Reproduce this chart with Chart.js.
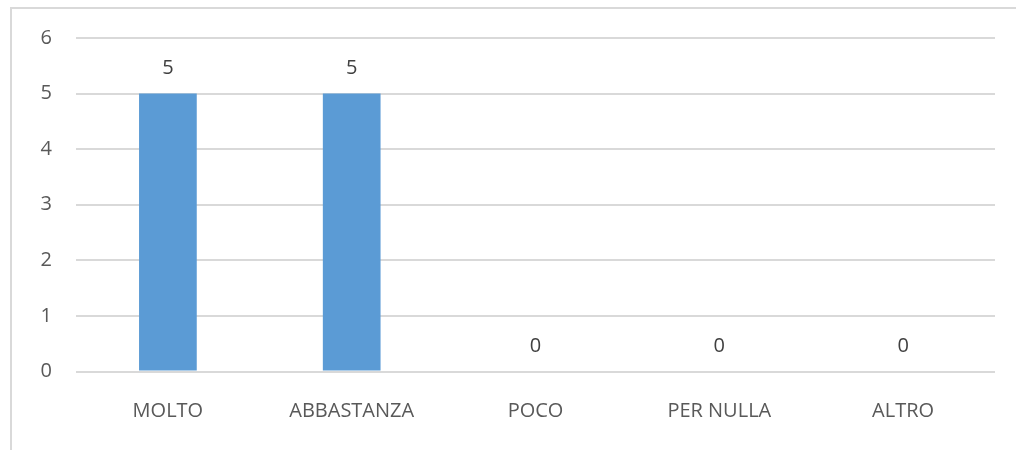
<!DOCTYPE html>
<html>
<head>
<meta charset="utf-8">
<script src="https://cdn.jsdelivr.net/npm/chart.js@4"></script>
<style>
  html, body { margin: 0; padding: 0; background: #ffffff; }
  #wrap { position: relative; width: 1016px; height: 450px; }
</style>
</head>
<body>
<div id="wrap"><canvas id="c" width="1016" height="450"></canvas></div>
<script>
const categories = ["MOLTO", "ABBASTANZA", "POCO", "PER NULLA", "ALTRO"];
const values = [5, 5, 0, 0, 0];
const yTicks = [0, 1, 2, 3, 4, 5, 6];

const FONT = "'Open Sans', 'Noto Sans', sans-serif";

const frame = {
  id: 'frame',
  beforeDraw(chart) {
    const ctx = chart.ctx;
    ctx.save();
    ctx.fillStyle = '#ffffff';
    ctx.fillRect(0, 0, chart.width, chart.height);
    ctx.strokeStyle = '#d9d9d9';
    ctx.lineWidth = 2;
    ctx.beginPath();
    ctx.moveTo(11, 460);
    ctx.lineTo(11, 8);
    ctx.lineTo(1030, 8);
    ctx.stroke();
    ctx.restore();
  }
};

const dataLabels = {
  id: 'dataLabels',
  afterDatasetsDraw(chart) {
    const ctx = chart.ctx;
    const meta = chart.getDatasetMeta(0);
    ctx.save();
    ctx.font = "20px " + FONT;
    ctx.fillStyle = '#404040';
    ctx.textAlign = 'center';
    ctx.textBaseline = 'middle';
    meta.data.forEach((bar, i) => {
      ctx.fillText(String(values[i]), bar.x, bar.y - 25);
    });
    ctx.restore();
  }
};

new Chart(document.getElementById('c'), {
  type: 'bar',
  data: {
    labels: categories,
    datasets: [{
      data: values,
      backgroundColor: '#5b9bd5',
      borderWidth: 0,
      barPercentage: 0.314,
      categoryPercentage: 1.0
    }]
  },
  options: {
    responsive: false,
    animation: false,
    devicePixelRatio: 1,
    layout: { padding: { top: 38, right: 21, bottom: 0, left: 0 } },
    plugins: { legend: { display: false }, tooltip: { enabled: false } },
    scales: {
      x: {
        grid: { display: false, drawTicks: false },
        border: { display: false },
        ticks: { color: '#595959', font: { family: FONT, size: 20 }, padding: 28, maxRotation: 0, autoSkip: false },
        afterFit(scale) { scale.height = 78.5; }
      },
      y: {
        min: 0, max: 6,
        afterBuildTicks(scale) { scale.ticks = yTicks.map(v => ({ value: v })); },
        grid: { color: '#d9d9d9', lineWidth: 2, drawTicks: false },
        border: { display: false },
        ticks: { color: '#595959', font: { family: FONT, size: 20 }, padding: 24 },
        afterFit(scale) { scale.width = 76; }
      }
    }
  },
  plugins: [frame, dataLabels]
});
</script>
</body>
</html>
